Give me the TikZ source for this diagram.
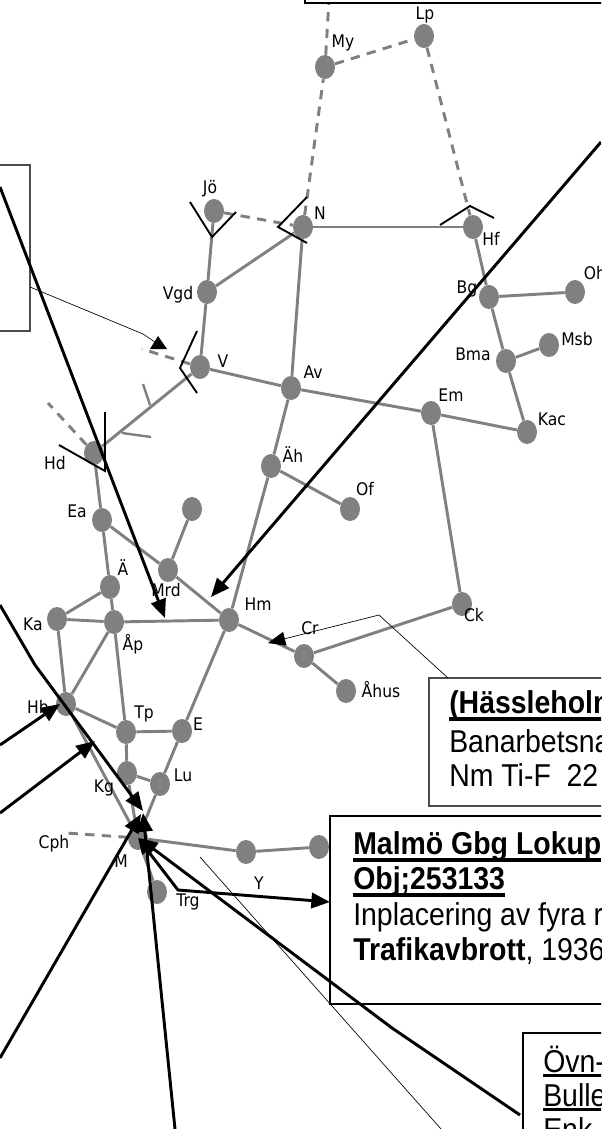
\documentclass[tikz,border=0pt]{standalone}
\usepackage{fontspec}
\setmainfont{Liberation Sans}
\newfontfamily\labfont{DejaVu Sans}
\usetikzlibrary{shapes.geometric,arrows.meta}
\newcommand{\lab}[1]{\scalebox{.9}[1]{\labfont #1}}
\newcommand{\wide}[1]{\scalebox{.9}[1]{\fontsize{23.7}{24}\selectfont #1}}
\newcommand{\ulx}[3]{\leavevmode\setbox0\hbox{#3}\rlap{\raisebox{-#1}{\rule{\wd0}{#2}}}\box0}
\definecolor{st}{RGB}{128,128,128}
\tikzset{
 x=0.75pt,y=-0.75pt,
 stn/.style={ellipse,fill=st,draw=none,minimum width=15pt,minimum height=18pt,inner sep=0pt},
 trackline/.style={draw=st,line width=2.2pt},
 dashline/.style={draw=st,line width=2.2pt,dash pattern=on 7pt off 5.5pt},
 tickline/.style={draw=st,line width=1.8pt},
 endmark/.style={draw=black,line width=1.4pt},
 conn/.style={draw=black,line width=2.2pt,-{Triangle[length=14pt,width=11.5pt]}},
 connb/.style={draw=black,line width=2.2pt,{Triangle[length=12pt,width=10pt]}-{Triangle[length=14pt,width=11.5pt]}},
 thinline/.style={draw=black,line width=0.5pt},
 lbl/.style={font=\fontsize{13}{14}\selectfont,inner sep=0pt},
 txt/.style={anchor=base west,inner sep=0pt},
 thickbox/.style={draw=black,fill=white,line width=1.9pt},
 thinbox/.style={draw=black!70,line width=0.8pt}
}
\begin{document}
\begin{tikzpicture}
\useasboundingbox (0,0) rectangle (601,1129);
\clip (0,0) rectangle (601,1129);
% stations
\foreach \n/\x/\y in {My/325/67,Lp/424/36,Jo/214/211,N/303/227,Hf/473/227,Vgd/207/292,Bg/489/297,Oh/575/292,Bma/506/361,Msb/549/345,V/200/367,Av/291/388,Em/431/413,Kac/527/432,Hd/94/453,Ah/271/466,Of/350/509,Ea/102/520,Top/192/509,Mrd/168/570,Ae/110/587,Ck/462/604,Ka/57/619,Ap/114/622,Hm/229/620,Cr/304/656,Ahus/346/691,Hb/66/704,Tp/126/732,E/182/731,Kg/127/773,Lu/160/784,M/138/838,Yn/246/852,Ys/319/847,Trg/157/892}
  {\node[stn] (\n) at (\x,\y) {};}
% free ends
\coordinate (myup) at (329,0);
\coordinate (cphend) at (66,833);
\coordinate (vend) at (142,349);
\coordinate (hdend) at (48,403);
\coordinate (br) at (150,405); \coordinate (brA) at (143,384);
\coordinate (bs) at (122,433); \coordinate (bsA) at (151,437);
% edges
\foreach \a/\b in {Hd/V,Hd/Ea,Ea/Ae,Ea/Mrd,Mrd/Hm,Mrd/Top,Ae/Ap,Ae/Ka,Ka/Ap,Ka/Hb,Ap/Hb,Ap/Hm,Ap/Tp,Hb/Tp,Hb/M,Tp/E,Tp/Kg,Kg/Lu,Lu/E,E/Hm,Hm/Cr,Cr/Ck,Cr/Ahus,Hm/Ah,Ah/Av,Ah/Of,Av/V,Av/N,Av/Em,Em/Kac,Em/Ck,V/Vgd,Vgd/Jo,Vgd/N,N/Hf,Hf/Bg,Bg/Oh,Bg/Bma,Bma/Msb,Bma/Kac,Kg/M,Lu/M,M/Yn,Yn/Ys,M/Trg}
  {\draw[trackline] (\a) -- (\b);}
\foreach \a/\b in {Jo/N,N/My,My/Lp,Lp/Hf,My/myup,M/cphend,V/vend,Hd/hdend}
  {\draw[dashline] (\a) -- (\b);}
\draw[tickline] (br) -- (brA);
\draw[tickline] (bs) -- (bsA);
% line-end marks
\draw[endmark] (190,202) -- (212,237) -- (236,212);
\draw[endmark] (307,197) -- (278,227) -- (307,243);
\draw[endmark] (197,331) -- (180,368) -- (197,393);
\draw[endmark] (440,225) -- (470,206) -- (494,218);
\draw[endmark] (59,445) -- (105,471) -- (105,412);
% labels
\foreach \n/\x/\y/\t in {lLp/425/15/Lp,lMy/343/43/My,lJo/210/189/Jö,lN/320/213/N,lHf/491/239/Hf,lVgd/178/295/Vgd,lBg/467/289/Bg,lOh/595/273/Oh,lBma/473/354/Bma,lMsb/577/339/Msb,lV/223/361/V,lAv/313/372/Av,lEm/451/395/Em,lKac/552/419/Kac,lHd/55/463/Hd,lAh/293/455/Äh,lOf/365/489/Of,lEa/77/511/Ea,lAe/123/568/Ä,lMrd/166/590/Mrd,lCk/474/615/Ck,lKa/33/624/Ka,lAp/133/644/Åp,lHm/258/604/Hm,lCr/310/628/Cr,lAhus/381/690/Åhus,lHb/38/707/Hb,lTp/144/714/Tp,lE/198/724/E,lLu/183/775/Lu,lKg/104/788/Kg,lCph/54/844/Cph,lM/121/861/M,lY/259/883/Y,lTrg/188/902/Trg}
  {\node[lbl] (\n) at (\x,\y) {\lab{\t}};}
% boxes
\draw[thickbox] (305,-10) rectangle (610,3);
\draw[thinbox] (-5,165) rectangle (30,331);
\coordinate (leftout) at (30,287);
\coordinate (leftbend) at (143,334);
\coordinate (lefttip) at (158,336);
\draw[thinline] (leftout) -- (leftbend) -- (155,342);
\fill (lefttip) -- (167,349) -- (150,349) -- cycle;
\draw[draw=black!70,fill=white,line width=0.8pt] (429,678) rectangle (610,806);
\node[txt] (t1) at (449,713) {\wide{\ulx{6pt}{3pt}{\bfseries (Hässleholm}}};
\node[txt] (t2) at (449,752) {\wide{Banarbetsna}};
\node[txt] (t3) at (449,786) {\wide{Nm Ti-F\ \ 22}};
\coordinate (hbend) at (379,615);
\coordinate (htop) at (448,678);
\coordinate (htip) at (268,643);
\draw[thinline,-{Triangle[length=13pt,width=10.5pt]}] (htop) -- (hbend) -- (htip);
\draw[thickbox] (330,816) rectangle (610,1004);
\node[txt] (t4) at (353,854) {\wide{\ulx{6pt}{3pt}{\bfseries Malmö Gbg Lokup}}};
\node[txt] (t5) at (353,889) {\wide{\ulx{6pt}{3pt}{\bfseries Obj;253133}}};
\node[txt] (t6) at (353,925) {\wide{Inplacering av fyra r}};
\node[txt] (t7) at (353,960) {\wide{\textbf{Trafikavbrott}, 1936}};
\draw[thickbox] (523,1033) rectangle (610,1140);
\node[txt] (t8) at (543,1072) {\wide{\ulx{4pt}{2.5pt}{Övn-}}};
\node[txt] (t9) at (543,1106) {\wide{\ulx{4pt}{2.5pt}{Bulle}}};
\node[txt] (t10) at (543,1140) {\wide{Enk}};
% thin line
\coordinate (tla) at (200,857);
\coordinate (tlb) at (441,1129);
\draw[thinline] (tla) -- (tlb);
% black connectors
\coordinate (a1) at (0,187); \coordinate (a1t) at (165,618);
\coordinate (a2) at (601,142); \coordinate (a2t) at (211,597);
\coordinate (a3) at (0,605); \coordinate (a3b) at (35,665); \coordinate (a3t) at (143,811);
\coordinate (a4) at (0,745); \coordinate (a4t) at (60,704);
\coordinate (a5) at (0,813); \coordinate (a5t) at (95,741);
\coordinate (a6) at (0,1058); \coordinate (a6t) at (141,814);
\coordinate (a7) at (175,1129); \coordinate (a7t) at (143,813);
\coordinate (a8) at (520,1115); \coordinate (a8b) at (392,1028); \coordinate (a8t) at (139,838);
\coordinate (a9b) at (178,890); \coordinate (a9e) at (330,902);
\draw[conn] (a1) -- (a1t);
\draw[conn] (a2) -- (a2t);
\draw[conn] (a3) -- (a3b) -- (a3t);
\draw[conn] (a4) -- (a4t);
\draw[conn] (a5) -- (a5t);
\draw[conn] (a6) -- (a6t);
\draw[conn] (a7) -- (a7t);
\draw[conn] (a8) -- (a8b) -- (a8t);
\draw[connb] (M.center) -- (a9b) -- (a9e);
\end{tikzpicture}
\end{document}
